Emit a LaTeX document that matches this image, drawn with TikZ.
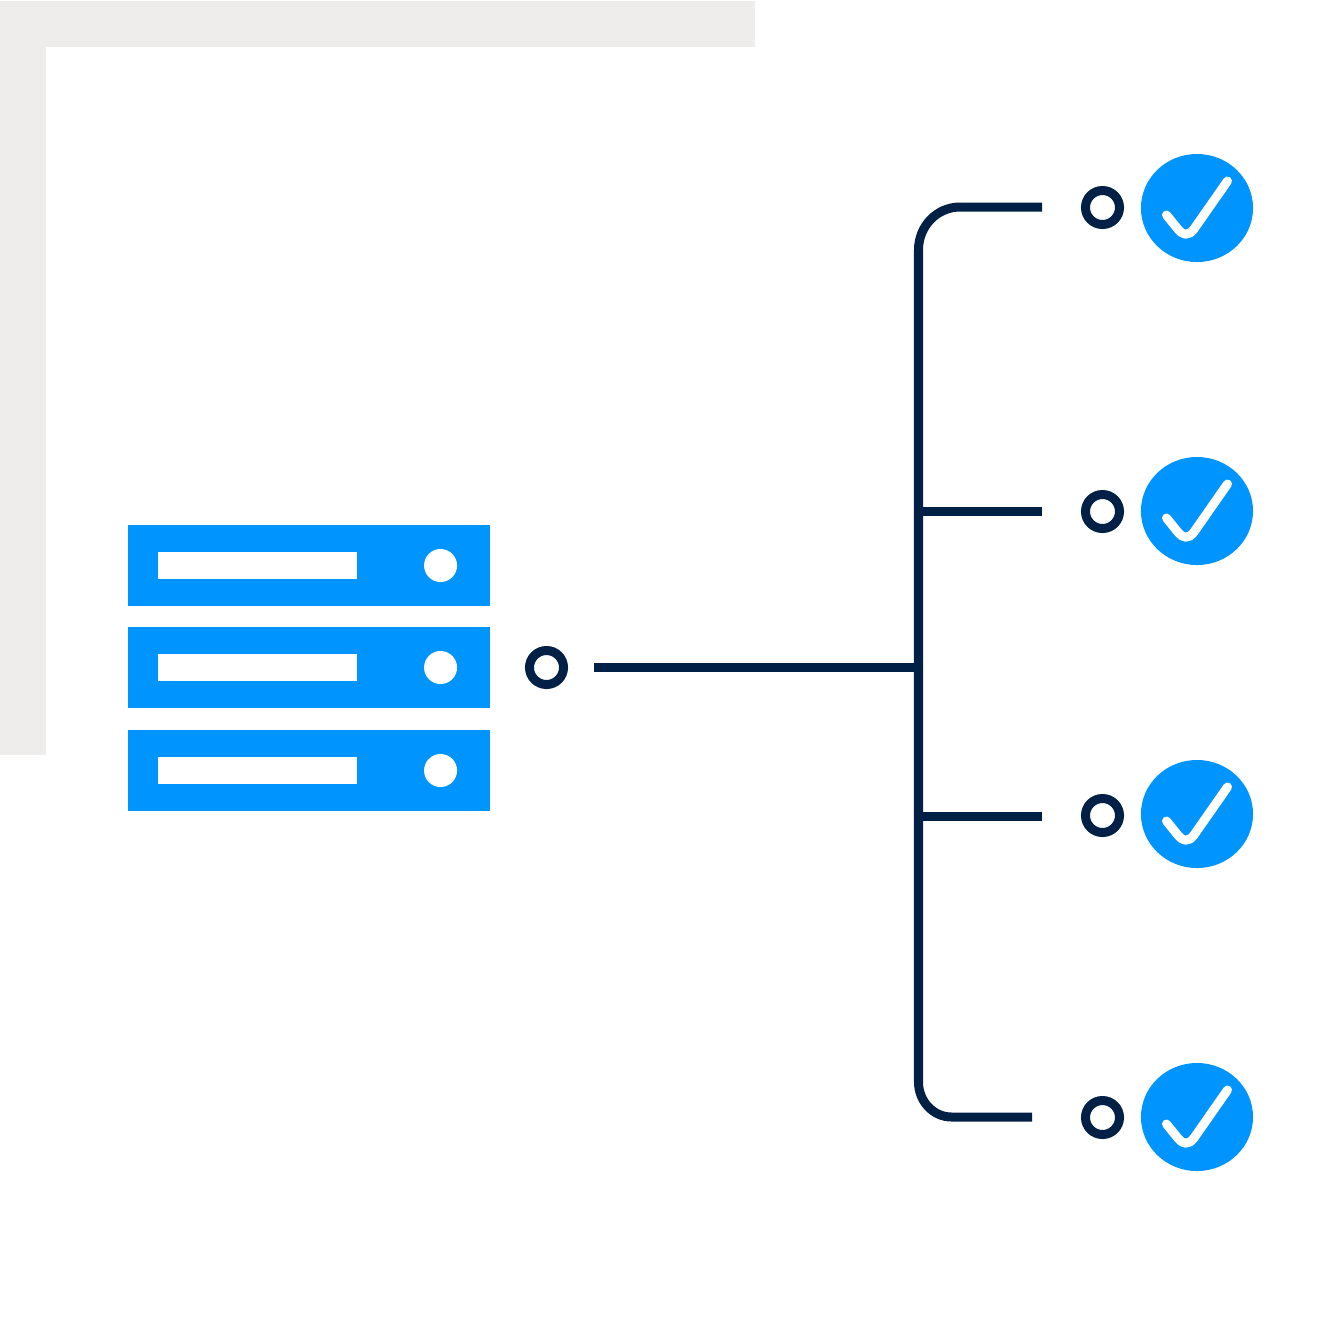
\documentclass[tikz,border=0pt]{standalone}
\usetikzlibrary{shapes.geometric}

\definecolor{panelgray}{HTML}{EEEDEB}
\definecolor{serverblue}{HTML}{0094FF}
\definecolor{linenavy}{HTML}{002145}

\tikzset{
  rack/.style={fill=serverblue,inner sep=0pt,minimum width=3.62cm,minimum height=0.81cm},
  slot/.style={fill=white,inner sep=0pt,minimum width=1.99cm,minimum height=0.27cm},
  lamp/.style={circle,fill=white,inner sep=0pt,minimum size=0.33cm},
  ring/.style={circle,draw=linenavy,line width=0.09cm,fill=white,inner sep=0pt,minimum size=0.34cm},
  badge/.style={ellipse,fill=serverblue,inner sep=0pt,minimum width=1.12cm,minimum height=1.08cm},
  wire/.style={draw=linenavy,line width=0.09cm},
  tick/.style={draw=white,line width=0.09cm,line cap=round,line join=round}
}

\begin{document}
\begin{tikzpicture}[x=0.01cm,y=-0.01cm]

\useasboundingbox (0,0) rectangle (1335,1335);

% corner panel
\fill[panelgray] (0,1) rectangle (755,47);
\fill[panelgray] (0,1) rectangle (46,755);

% server
\node[rack] (rack1) at (309,565.5) {};
\node[rack] (rack2) at (309,667.5) {};
\node[rack] (rack3) at (309,770.5) {};
\foreach \r in {1,2,3} {
  \node[slot] (slot\r) at ([xshift=-0.515cm]rack\r.center) {};
  \node[lamp] (lamp\r) at ([xshift=1.315cm]rack\r.center) {};
}

\node[ring] (ringserver) at (546.5,667.5) {};

% results
\foreach \n/\y/\ry in {1/208/207.5,2/511/511.5,3/814/815.5,4/1117/1117.5} {
  \node[ring] (ring\n) at (1102.5,\ry) {};
  \node[badge] (badge\n) at (1197,\y) {};
  \draw[tick] ([shift={(-30.5,7)}]badge\n.center) -- ([shift={(-20,20)}]badge\n.center)
    .. controls ([shift={(-14,28)}]badge\n.center) and ([shift={(-8,28)}]badge\n.center) .. ([shift={(-3,21)}]badge\n.center)
    -- ([shift={(30.5,-27)}]badge\n.center);
}

% wires
\coordinate (mainstart) at (594,667);
\coordinate (mainend) at (918.5,667);
\coordinate (endtop) at (1042,207);
\coordinate (endtwo) at (1042,511);
\coordinate (endthree) at (1042,816.5);
\coordinate (endbottom) at (1032,1117);
\coordinate (branchtwo) at (918.5,511);
\coordinate (branchthree) at (918.5,816.5);

\draw[wire] (endtop) -- (960,207) .. controls (937,207) and (918.5,226) .. (918.5,250)
  -- (918.5,1082) .. controls (918.5,1101) and (933,1117) .. (951.5,1117) -- (endbottom);
\draw[wire] (mainstart) -- (mainend);
\draw[wire] (branchtwo) -- (endtwo);
\draw[wire] (branchthree) -- (endthree);

\end{tikzpicture}
\end{document}
